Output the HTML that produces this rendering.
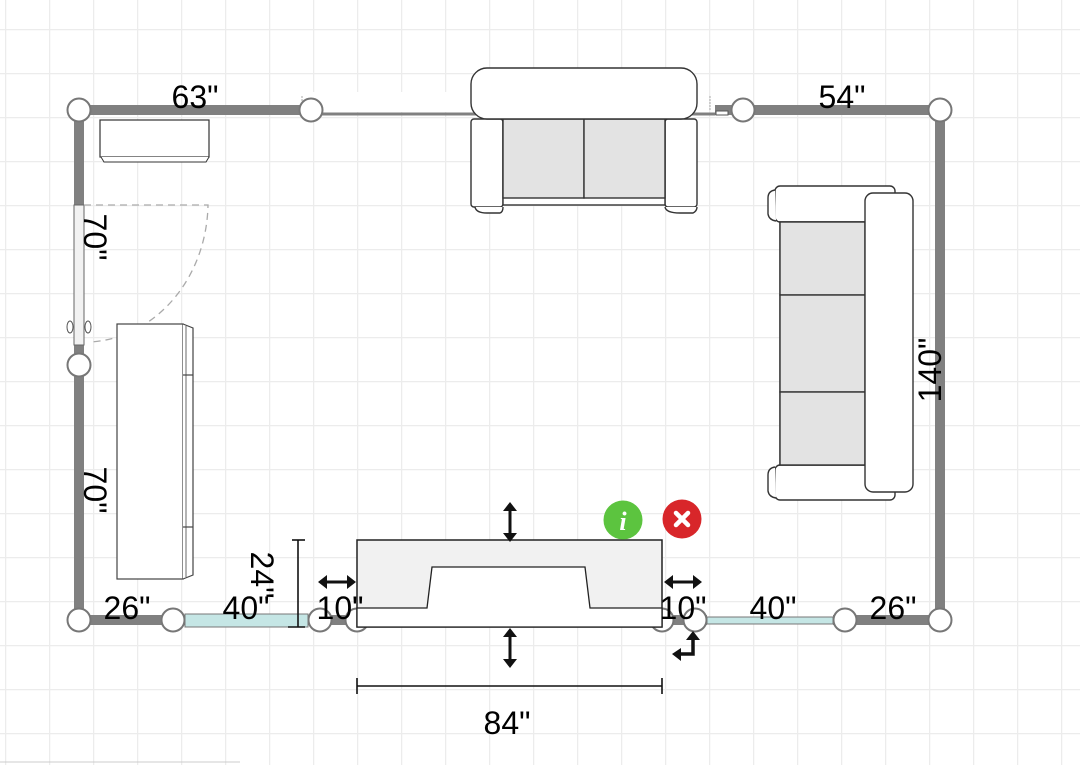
<!DOCTYPE html>
<html><head><meta charset="utf-8"><style>
html,body{margin:0;padding:0;background:#fff;}
svg{display:block;}
text{font-family:"Liberation Sans",sans-serif;font-size:32px;fill:#000;}
</style></head><body>
<svg width="1080" height="765" viewBox="0 0 1080 765" xmlns="http://www.w3.org/2000/svg">
<defs>
<pattern id="g" x="5" y="29" width="44" height="44" patternUnits="userSpaceOnUse">
<path d="M0 0H44M0 0V44" stroke="#ececec" stroke-width="2.5" fill="none"/>
</pattern>
</defs>
<rect width="1080" height="765" fill="#fff"/>
<rect width="1080" height="765" fill="url(#g)"/>
<line x1="0" y1="762" x2="240" y2="762" stroke="#ccc" stroke-width="1"/>

<g stroke="#808080" stroke-width="10" fill="none">
<line x1="79" y1="110" x2="311" y2="110"/>
<line x1="715" y1="110" x2="940" y2="110"/>
<line x1="940" y1="110" x2="940" y2="620"/>
<line x1="79" y1="110" x2="79" y2="210"/>
<line x1="79" y1="340" x2="79" y2="620"/>
<line x1="79" y1="620" x2="185" y2="620"/>
<line x1="300" y1="620" x2="707" y2="620"/>
<line x1="833" y1="620" x2="940" y2="620"/>
</g>
<line x1="311" y1="114" x2="715" y2="114" stroke="#808080" stroke-width="3"/>
<rect x="300" y="92" width="170" height="20" fill="#fff"/>
<path d="M302 96 V110" stroke="#aaa" stroke-width="1" stroke-dasharray="2 1"/>
<path d="M710 96 V110" stroke="#aaa" stroke-width="1" stroke-dasharray="2 1"/>
<rect x="716" y="111" width="12" height="4" fill="#fff" stroke="#555" stroke-width="1"/>
<rect x="185" y="614" width="123" height="13" fill="#c5e6e5" stroke="#777" stroke-width="1"/>
<rect x="707" y="617" width="126" height="7" fill="#c5e6e5" stroke="#777" stroke-width="1"/>
<rect x="74" y="205" width="10" height="140" fill="#f2f2f2" stroke="#666" stroke-width="1"/>
<ellipse cx="70" cy="327" rx="3" ry="6" fill="#fff" stroke="#555" stroke-width="1"/>
<ellipse cx="88" cy="327" rx="3" ry="6" fill="#fff" stroke="#555" stroke-width="1"/>
<path d="M84 205 H208 A124 140 0 0 1 90 342" stroke="#aaa" stroke-width="1.3" stroke-dasharray="7 5" fill="none"/>

<rect x="100" y="120" width="109" height="37" fill="#fff" stroke="#333" stroke-width="1.2"/>
<path d="M101 157 L104 162 H206 L209 157" fill="#fff" stroke="#333" stroke-width="1"/>
<rect x="117" y="324" width="66" height="255" fill="#fff" stroke="#444" stroke-width="1.2"/>
<path d="M183 324 L193 328 V575 L183 579" fill="#fff" stroke="#444" stroke-width="1.2"/>
<line x1="186" y1="326" x2="186" y2="577" stroke="#444" stroke-width="0.8"/>
<line x1="183" y1="375" x2="193" y2="375" stroke="#444" stroke-width="1.2"/>
<line x1="183" y1="527" x2="193" y2="527" stroke="#444" stroke-width="1.2"/>

<g stroke="#333" stroke-width="1.4" fill="#fff">
<rect x="471" y="119" width="32" height="88" rx="3"/>
<rect x="665" y="119" width="32" height="88" rx="3"/>
<rect x="503" y="119" width="162" height="86" fill="#fff"/>
<rect x="503" y="119" width="81" height="79" fill="#e3e3e3"/>
<rect x="584" y="119" width="81" height="79" fill="#e3e3e3"/>
<path d="M475 207 Q476 213 487 213 H500 Q503 212 503 207"/>
<path d="M665 207 Q666 213 680 213 H693 Q697 211 697 207"/>
<rect x="471" y="68" width="226" height="51" rx="16"/>
</g>
<g stroke="#333" stroke-width="1.4" fill="#fff">
<rect x="775" y="186" width="120" height="36" rx="5"/>
<rect x="775" y="465" width="120" height="35" rx="5"/>
<rect x="780" y="222" width="85" height="243"/>
<rect x="780" y="222" width="85" height="73" fill="#e3e3e3"/>
<rect x="780" y="295" width="85" height="97" fill="#e3e3e3"/>
<rect x="780" y="392" width="85" height="73" fill="#e3e3e3"/>
<path d="M775 190 Q768 191 768 198 V214 Q769 220 776 221"/>
<path d="M775 467 Q768 468 768 475 V491 Q769 497 776 498"/>
<rect x="865" y="193" width="48" height="299" rx="8"/>
</g>

<g fill="#fff" stroke="#777" stroke-width="2">
<circle cx="79" cy="110" r="11.5"/>
<circle cx="311" cy="110" r="11.5"/>
<circle cx="743" cy="110" r="11.5"/>
<circle cx="940" cy="110" r="11.5"/>
<circle cx="79" cy="365" r="11.5"/>
<circle cx="79" cy="620" r="11.5"/>
<circle cx="173" cy="620" r="11.5"/>
<circle cx="320" cy="620" r="11.5"/>
<circle cx="357" cy="620" r="11.5"/>
<circle cx="662" cy="620" r="11.5"/>
<circle cx="695" cy="620" r="11.5"/>
<circle cx="845" cy="620" r="11.5"/>
<circle cx="940" cy="620" r="11.5"/>
</g>

<rect x="357" y="540" width="305" height="87" fill="#f1f1f1" stroke="#222" stroke-width="1.5"/>
<path d="M357 608 H427 L432 567 H585 L590 608 H662 V627 H357 Z" fill="#fff" stroke="#222" stroke-width="1.3"/>

<g fill="#111" stroke="#111">
<g stroke-width="3"><line x1="510" y1="508" x2="510" y2="536"/><line x1="510" y1="634" x2="510" y2="662"/>
<line x1="322" y1="582" x2="352" y2="582"/><line x1="668" y1="582" x2="698" y2="582"/></g>
<g stroke="none">
<path d="M503 511 L510 502 L517 511Z"/><path d="M503 533 L510 542 L517 533Z"/>
<path d="M503 637 L510 628 L517 637Z"/><path d="M503 659 L510 668 L517 659Z"/>
<path d="M327 575 L318 582 L327 589Z"/><path d="M347 575 L356 582 L347 589Z"/>
<path d="M673 575 L664 582 L673 589Z"/><path d="M693 575 L702 582 L693 589Z"/>
<path d="M686 640 L693 631 L700 640Z"/>
</g>
<path d="M693 638 V654 H676" fill="none" stroke-width="3.5"/>
<path d="M681 648 L672 654 L681 661Z" stroke="none"/>
</g>

<circle cx="623" cy="520" r="19.5" fill="#5cc43f"/>
<text x="623" y="530" text-anchor="middle" style="font-family:'Liberation Serif',serif;font-style:italic;font-weight:bold;font-size:26px;fill:#fff">i</text>
<circle cx="682" cy="519" r="19.5" fill="#d8262a"/>
<path d="M676 513 L688 525 M688 513 L676 525" stroke="#fff" stroke-width="4.5" stroke-linecap="round"/>

<g stroke="#111" stroke-width="1.6">
<line x1="298" y1="540" x2="298" y2="627"/><line x1="292" y1="540" x2="305" y2="540"/><line x1="288" y1="627" x2="305" y2="627"/>
<line x1="357" y1="686" x2="662" y2="686"/><line x1="357" y1="678" x2="357" y2="694"/><line x1="662" y1="678" x2="662" y2="694"/>
</g>

<text x="195" y="108" text-anchor="middle">63"</text>
<text x="842" y="108" text-anchor="middle">54"</text>
<text transform="translate(84,237) rotate(90)" text-anchor="middle">70"</text>
<text transform="translate(84,490) rotate(90)" text-anchor="middle">70"</text>
<text transform="translate(941,370) rotate(-90)" text-anchor="middle">140"</text>
<text transform="translate(251,575) rotate(90)" text-anchor="middle">24"</text>
<text x="127" y="619" text-anchor="middle">26"</text>
<text x="246" y="619" text-anchor="middle">40"</text>
<text x="340" y="619" text-anchor="middle">10"</text>
<text x="683" y="619" text-anchor="middle">10"</text>
<text x="773" y="619" text-anchor="middle">40"</text>
<text x="893" y="619" text-anchor="middle">26"</text>
<text x="507" y="734" text-anchor="middle">84"</text>
</svg>
</body></html>
